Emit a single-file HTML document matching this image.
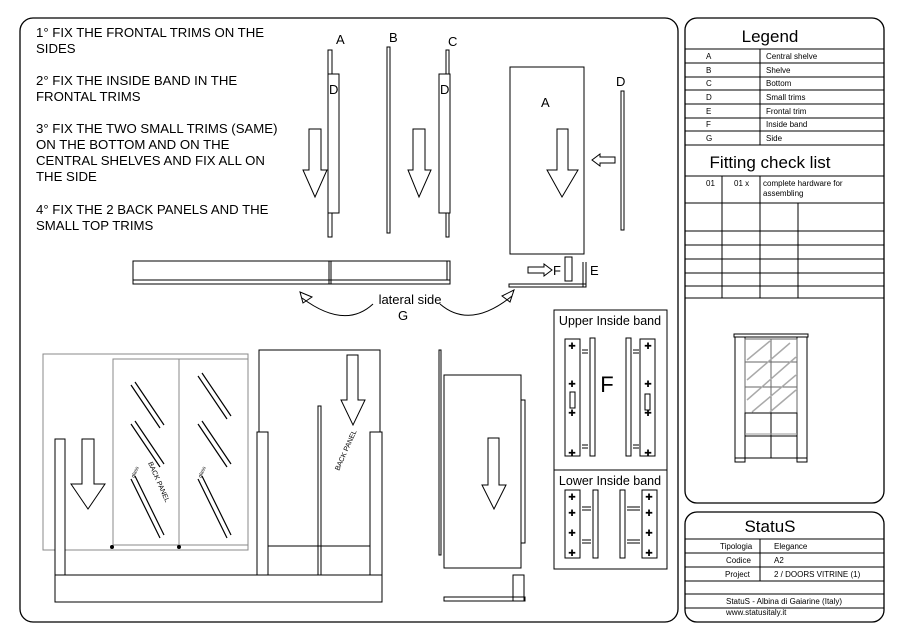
<!DOCTYPE html>
<html><head><meta charset="utf-8"><style>
body{margin:0;background:#fff}
svg{display:block;font-family:"Liberation Sans",Arial,sans-serif}
</style></head><body>
<svg width="905" height="640" viewBox="0 0 905 640" xmlns="http://www.w3.org/2000/svg">
<rect width="905" height="640" fill="#fff"/>
<g fill="none" stroke="#000" stroke-width="1.3">
<rect x="20" y="18" width="658" height="604" rx="13"/>
<rect x="685" y="18" width="199" height="485" rx="12"/>
<rect x="685" y="512" width="199" height="110" rx="12"/>
</g>
<g stroke="#000" stroke-width="1">
<line x1="685" y1="49" x2="884" y2="49"/><line x1="685" y1="63" x2="884" y2="63"/><line x1="685" y1="77" x2="884" y2="77"/><line x1="685" y1="90" x2="884" y2="90"/><line x1="685" y1="104" x2="884" y2="104"/><line x1="685" y1="118" x2="884" y2="118"/><line x1="685" y1="131" x2="884" y2="131"/><line x1="685" y1="145" x2="884" y2="145"/>
<line x1="760" y1="49" x2="760" y2="145"/>
<line x1="685" y1="176" x2="884" y2="176"/><line x1="685" y1="203" x2="884" y2="203"/><line x1="685" y1="231" x2="884" y2="231"/><line x1="685" y1="245" x2="884" y2="245"/><line x1="685" y1="259" x2="884" y2="259"/><line x1="685" y1="273" x2="884" y2="273"/><line x1="685" y1="286" x2="884" y2="286"/><line x1="685" y1="298" x2="884" y2="298"/>
<line x1="722" y1="176" x2="722" y2="298"/><line x1="760" y1="176" x2="760" y2="298"/><line x1="798" y1="203" x2="798" y2="298"/>
<line x1="685" y1="539" x2="884" y2="539"/><line x1="685" y1="553" x2="884" y2="553"/><line x1="685" y1="567" x2="884" y2="567"/><line x1="685" y1="581" x2="884" y2="581"/><line x1="685" y1="594" x2="884" y2="594"/><line x1="685" y1="608" x2="884" y2="608"/>
<line x1="760" y1="539" x2="760" y2="581"/>
</g>
<g font-size="8" fill="#000">
<text x="706" y="59">A</text><text x="706" y="73">B</text><text x="706" y="86">C</text><text x="706" y="100">D</text><text x="706" y="114">E</text><text x="706" y="127">F</text><text x="706" y="141">G</text>
<text x="766" y="59">Central shelve</text><text x="766" y="73">Shelve</text><text x="766" y="86">Bottom</text><text x="766" y="100">Small trims</text><text x="766" y="114">Frontal trim</text><text x="766" y="127">Inside band</text><text x="766" y="141">Side</text>
<text x="706" y="186">01</text><text x="734" y="186">01 x</text><text x="763" y="186">complete hardware for</text><text x="763" y="196">assembling</text>
<text x="720" y="549">Tipologia</text><text x="774" y="549">Elegance</text>
<text x="726" y="563">Codice</text><text x="774" y="563">A2</text>
<text x="725" y="577">Project</text><text x="774" y="577">2 / DOORS VITRINE (1)</text>
<text x="726" y="604">StatuS - Albina di Gaiarine (Italy)</text>
<text x="726" y="615">www.statusitaly.it</text>
</g>
<text x="770" y="42" font-size="17" text-anchor="middle">Legend</text>
<text x="770" y="168" font-size="17" text-anchor="middle">Fitting check list</text>
<text x="770" y="532" font-size="17" text-anchor="middle">StatuS</text>
<g font-size="13.2" fill="#000">
<text x="36" y="37">1° FIX THE FRONTAL TRIMS ON THE</text><text x="36" y="53">SIDES</text>
<text x="36" y="85">2° FIX THE INSIDE BAND IN THE</text><text x="36" y="101">FRONTAL TRIMS</text>
<text x="36" y="133">3° FIX THE TWO SMALL TRIMS (SAME)</text><text x="36" y="149">ON THE BOTTOM AND ON THE</text><text x="36" y="165">CENTRAL SHELVES AND FIX ALL ON</text><text x="36" y="181">THE SIDE</text>
<text x="36" y="214">4° FIX THE 2 BACK PANELS AND THE</text><text x="36" y="230">SMALL TOP TRIMS</text>
</g>
<g fill="none" stroke="#000" stroke-width="1">
<rect x="328" y="50" width="4" height="187"/><rect x="328" y="74" width="11" height="139" fill="#fff"/>
<rect x="387" y="47" width="3" height="186"/>
<rect x="446" y="50" width="3" height="187"/><rect x="439" y="74" width="11" height="139" fill="#fff"/>
<rect x="510" y="67" width="74" height="187"/>
<rect x="621" y="91" width="3" height="139"/>
<path d="M309 129H321V170H327L315 197L303 170H309Z"/>
<path d="M413 129H425V170H431L419 197L408 170H413Z"/>
<path d="M557 129H568V170H578L562 197L547 170H557Z"/>
<path d="M615 157H600V154L592 160L600 166V163H615Z"/>
<rect x="133" y="261" width="317" height="23"/><line x1="133" y1="280" x2="450" y2="280"/>
<line x1="329" y1="261" x2="329" y2="284"/><line x1="331" y1="261" x2="331" y2="284"/><line x1="447" y1="261" x2="447" y2="280"/>
<path d="M528 267H544V264L552 270L544 276V273H528Z"/>
<rect x="565" y="257" width="7" height="24"/>
<line x1="583" y1="262" x2="583" y2="287"/><line x1="586" y1="262" x2="586" y2="287"/>
<rect x="509" y="284" width="77" height="3"/>
<path d="M373 304Q345 330 302 298"/><path d="M300 292L312 297L303 303Z"/>
<path d="M440 304Q470 330 512 296"/><path d="M514 290L502 296L510 302Z"/>
</g>
<text x="336" y="44" font-size="13">A</text><text x="389" y="42" font-size="13">B</text><text x="448" y="46" font-size="13">C</text>
<text x="329" y="94" font-size="13">D</text><text x="440" y="94" font-size="13">D</text><text x="616" y="86" font-size="13">D</text>
<text x="541" y="107" font-size="13">A</text><text x="553" y="275" font-size="13">F</text><text x="590" y="275" font-size="13">E</text>
<text x="410" y="304" font-size="13" text-anchor="middle">lateral side</text><text x="403" y="320" font-size="13" text-anchor="middle">G</text>
<g fill="none" stroke="#000" stroke-width="1">
<rect x="43" y="354" width="205" height="196" stroke="#888"/>
<rect x="113" y="359" width="135" height="186" stroke="#888"/><line x1="179" y1="359" x2="179" y2="545" stroke="#888"/>
<rect x="55" y="439" width="10" height="136" fill="#fff"/>
<path d="M82 439H94V484H105L88 509L71 484H82Z"/>
<rect x="55" y="575" width="327" height="27"/>
<path d="M259 432V350H380V432"/>
<rect x="257" y="432" width="11" height="143"/><rect x="370" y="432" width="12" height="143"/>
<rect x="318" y="406" width="3" height="169"/>
<line x1="268" y1="546" x2="370" y2="546"/>
<path d="M347 355H358V400H365L353 425L341 400H347Z"/>
<g stroke-width="1.2"><path d="M131 385L160 428M135 382L164 425M131 424L160 467M135 421L164 464M131 479L160 538M135 476L164 535M198 376L227 419M202 373L231 416M198 424L227 467M202 421L231 464M198 479L227 538M202 476L231 535"/></g>
<circle cx="112" cy="547" r="1.5" fill="#000"/><circle cx="179" cy="547" r="1.5" fill="#000"/>
</g>
<text transform="translate(148 463) rotate(66)" font-size="7">BACK PANEL</text>
<text transform="translate(339 471) rotate(-66)" font-size="7">BACK PANEL</text>
<text transform="translate(134 478) rotate(-66)" font-size="5">glass</text>
<text transform="translate(201 478) rotate(-66)" font-size="5">glass</text>
<g fill="none" stroke="#000" stroke-width="1">
<rect x="439" y="350" width="2" height="205"/>
<rect x="444" y="375" width="77" height="193"/>
<rect x="521" y="400" width="4" height="143"/>
<path d="M488 438H499V485H506L494 509L482 485H488Z"/>
<rect x="444" y="597" width="81" height="4"/><rect x="513" y="575" width="11" height="26"/>
</g>
<g fill="none" stroke="#000" stroke-width="1">
<rect x="554" y="310" width="113" height="259"/><line x1="554" y1="470" x2="667" y2="470"/>
<rect x="565" y="339" width="15" height="117"/><rect x="590" y="338" width="5" height="118"/>
<rect x="626" y="338" width="5" height="118"/><rect x="640" y="339" width="15" height="117"/>
<rect x="570" y="392" width="5" height="16"/><rect x="645" y="394" width="5" height="16"/>
<rect x="565" y="490" width="15" height="68"/><rect x="593" y="490" width="5" height="68"/>
<rect x="620" y="490" width="5" height="68"/><rect x="642" y="490" width="15" height="68"/>
<path d="M582 350H588M582 353H588M633 350H639M633 353H639M582 445H588M582 448H588M633 445H639M633 448H639M582 507H591M582 510H591M627 507H640M627 510H640M582 540H591M582 543H591M627 540H640M627 543H640"/>
</g>
<g font-size="9" text-anchor="middle" fill="#000">
<text x="572" y="349">✚</text><text x="572" y="387">✚</text><text x="572" y="416">✚</text><text x="572" y="456">✚</text>
<text x="648" y="349">✚</text><text x="648" y="387">✚</text><text x="648" y="416">✚</text><text x="648" y="456">✚</text>
<text x="572" y="500">✚</text><text x="572" y="516">✚</text><text x="572" y="536">✚</text><text x="572" y="556">✚</text>
<text x="649" y="500">✚</text><text x="649" y="516">✚</text><text x="649" y="536">✚</text><text x="649" y="556">✚</text>
</g>
<text x="610" y="325" font-size="12.5" text-anchor="middle">Upper Inside band</text>
<text x="610" y="485" font-size="12.5" text-anchor="middle">Lower Inside band</text>
<text x="607" y="392" font-size="22" text-anchor="middle">F</text>
<g fill="none" stroke="#000" stroke-width="1">
<rect x="734" y="334" width="74" height="3"/>
<rect x="735" y="337" width="10" height="125"/><rect x="797" y="337" width="10" height="125"/>
<rect x="745" y="339" width="52" height="74" stroke="#666"/>
<line x1="771" y1="339" x2="771" y2="413" stroke="#666"/><line x1="745" y1="362" x2="797" y2="362" stroke="#666"/><line x1="745" y1="387" x2="797" y2="387" stroke="#666"/>
<g stroke="#aaa" stroke-width="1.5"><path d="M747 360L770 341M747 380L790 343M747 400L796 357M752 412L796 375M770 412L796 390"/></g>
<rect x="745" y="413" width="52" height="45"/><line x1="771" y1="413" x2="771" y2="458"/><line x1="745" y1="434" x2="797" y2="434" stroke="#999"/><line x1="745" y1="436" x2="797" y2="436"/>
<line x1="735" y1="458" x2="807" y2="458"/>
</g>
</svg>
</body></html>
